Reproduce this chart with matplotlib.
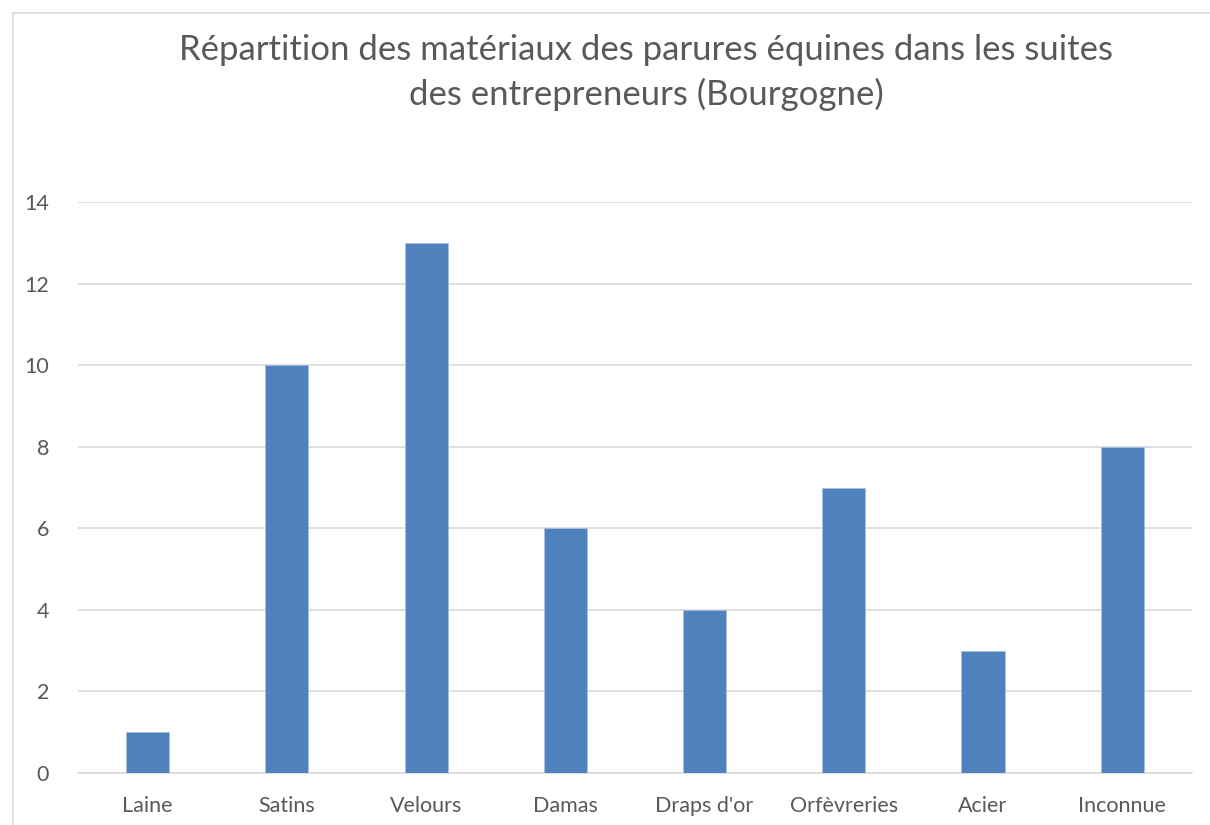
import matplotlib.pyplot as plt
from matplotlib.patches import Rectangle

# Données
materiaux = ["Laine", "Satins", "Velours", "Damas", "Draps d'or", "Orfèvreries", "Acier", "Inconnue"]
nombre = [1, 10, 13, 6, 4, 7, 3, 8]
graduations = [0, 2, 4, 6, 8, 10, 12, 14]

gris = "#595959"
plt.rcParams['font.family'] = ['Lato', 'DejaVu Sans']

fig = plt.figure(figsize=(12.1, 8.25), dpi=100)
ax = fig.add_axes([0.0645, 0.063, 0.9205, 0.692])

# Cadre du graphique
fig.patches.append(Rectangle((13 / 1210, -0.1), 1.2, 1 - 13 / 825 + 0.1,
                             transform=fig.transFigure, fill=False,
                             edgecolor="#D9D9D9", linewidth=1.2))

ax.bar(range(len(materiaux)), nombre, width=0.31, color="#4F81BD",
       edgecolor="#A9C0DD", linewidth=0.6, zorder=3)

ax.set_xlim(-0.5, len(materiaux) - 0.5)
ax.set_ylim(0, 14)
ax.set_yticks(graduations)
ax.set_xticks(range(len(materiaux)))
ax.set_xticklabels(materiaux)
ax.grid(axis="y", color="#D9D9D9", linewidth=1.2, zorder=0)
ax.tick_params(length=0, labelsize=15.5, colors=gris)
ax.tick_params(axis="x", pad=16.5)
ax.tick_params(axis="y", pad=21)
for s in ["top", "right", "left"]:
    ax.spines[s].set_visible(False)
ax.spines["bottom"].set_color("#D9D9D9")
ax.spines["bottom"].set_linewidth(1.2)

fig.text(0.534, 0.912, "Répartition des matériaux des parures équines dans les suites\ndes entrepreneurs (Bourgogne)",
         ha="center", va="center", fontsize=25, color=gris, linespacing=1.45)

fig.savefig("out.png", dpi=100)
